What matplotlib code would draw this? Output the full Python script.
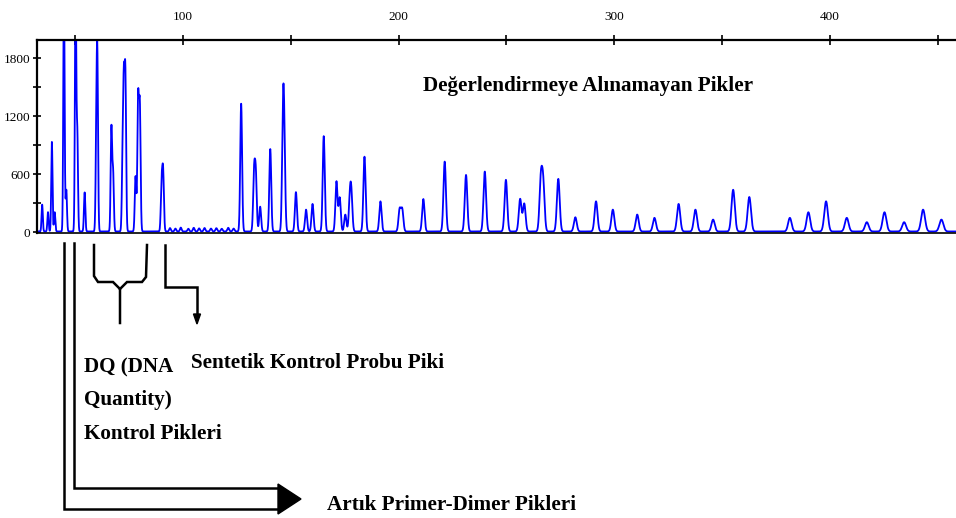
import matplotlib
matplotlib.use("Agg")
import matplotlib.pyplot as plt
import numpy as np

# peak positions (bp) and heights (RFU)
peak_bp = [34.7, 37.4, 39.2, 40.5, 44.8, 45.9, 50.2, 51.0, 54.4, 59.8, 60.3,
           66.8, 67.6, 72.0, 72.6, 73.3, 78.0, 79.2, 80.0, 90.1, 90.8,
           127.0, 133.0, 133.8, 135.8, 140.5, 146.4, 147.0, 152.4, 157.1, 160.1,
           165.3, 171.2, 172.7, 175.3, 177.4, 178.1, 184.2, 191.6, 200.5, 201.7,
           211.5, 221.4, 231.3, 240.0, 249.8, 256.4, 258.3, 266.0, 267.1, 274.1,
           282.0, 291.6, 299.4, 310.7, 318.7, 329.9, 337.7, 345.9, 355.2, 362.7,
           381.5, 390.1, 398.3, 407.9, 417.2, 425.4, 434.5, 443.3, 451.8]
peak_h = [278, 200, 930, 200, 2600, 430, 2600, 1000, 405, 850, 1667,
          1067, 600, 700, 1392, 1536, 570, 1358, 1270, 480, 593,
          1324, 593, 560, 257, 854, 1091, 800, 408, 226, 285,
          988, 518, 350, 175, 302, 357, 775, 312, 226, 226,
          336, 724, 586, 621, 535, 336, 288, 518, 470, 545,
          147, 312, 226, 175, 141, 285, 226, 123, 432, 357,
          141, 199, 312, 141, 96, 199, 96, 226, 123]

# small baseline bumps between the control peaks and the ladder
noise_bp = [94, 96.5, 99, 102.5, 105, 107.5, 110, 113, 115.5, 118, 121, 123.5]
noise_h = [35, 30, 40, 28, 38, 32, 36, 30, 34, 28, 38, 30]

xtick_major = [100, 200, 300, 400]
ytick_major = [0, 600, 1200, 1800]

bp = np.linspace(30, 462, 8000)
trace = np.full_like(bp, 6.0)
for p, h in zip(peak_bp + noise_bp, peak_h + noise_h):
    s = 0.28 + 0.0015 * (p - 30)
    trace += h * np.exp(-0.5 * ((bp - p) / s) ** 2)

W, H = 956, 518
fig = plt.figure(figsize=(W / 100, H / 100), dpi=100, facecolor='white')
ax = fig.add_axes([37 / W, 1 - 233 / H, (W - 37) / W + 0.01, (233 - 40) / H])
ax.plot(bp, trace, color='#0000ff', lw=1.3)
ax.set_xlim(32.3, 463)
ax.set_ylim(-10, 1990)

for s in ['top', 'left']:
    ax.spines[s].set_linewidth(1.6)
ax.spines['bottom'].set_linewidth(1.2)
ax.spines['right'].set_visible(False)

tickfont = 'Liberation Serif'
ax.xaxis.tick_top()
ax.set_xticks(xtick_major)
ax.set_xticks([50, 150, 250, 350, 450], minor=True)
ax.set_xticklabels([str(v) for v in xtick_major], family=tickfont, fontsize=9.5)
ax.tick_params(axis='x', which='both', direction='inout', length=7, width=1.2, pad=9)
ax.set_yticks(ytick_major)
ax.set_yticks([300, 900, 1500], minor=True)
ax.set_yticklabels([str(v) for v in ytick_major], family=tickfont, fontsize=9.5)
ax.tick_params(axis='y', which='both', direction='inout', length=6, width=1.2, pad=2)

# overlay in pixel coordinates for the callouts
ov = fig.add_axes([0, 0, 1, 1], facecolor='none')
ov.set_xlim(0, W)
ov.set_ylim(H, 0)
ov.axis('off')

lk = dict(color='black', lw=1.8, solid_joinstyle='miter')
# primer-dimer double arrow
ov.plot([64, 64, 279], [243, 509, 509], **lk)
ov.plot([74, 74, 279], [243, 488, 488], **lk)
ov.fill([278, 278, 301], [484, 514, 499], color='black')
# DQ brace
ov.plot([94, 94, 98, 113, 120, 120], [245, 276, 282, 282, 289, 323], **lk)
ov.plot([147, 146, 142, 127, 120], [245, 277, 282, 282, 289], **lk)
# synthetic control probe arrow
ov.plot([165, 165, 197, 197], [245, 287, 287, 316], **lk)
ov.fill([193.5, 200.5, 197], [314, 314, 324], color='black')

tf = dict(family='Liberation Serif', weight='bold', fontsize=15.2, color='black',
          va='baseline', ha='left')
ov.text(423, 91, 'Değerlendirmeye Alınamayan Pikler', **tf)
ov.text(84, 372, 'DQ (DNA', **tf)
ov.text(84, 405, 'Quantity)', **tf)
ov.text(84, 439, 'Kontrol Pikleri', **tf)
ov.text(191, 368, 'Sentetik Kontrol Probu Piki', **tf)
ov.text(327, 510, 'Artık Primer-Dimer Pikleri', **tf)

fig.savefig('out.png', dpi=100, facecolor='white')
